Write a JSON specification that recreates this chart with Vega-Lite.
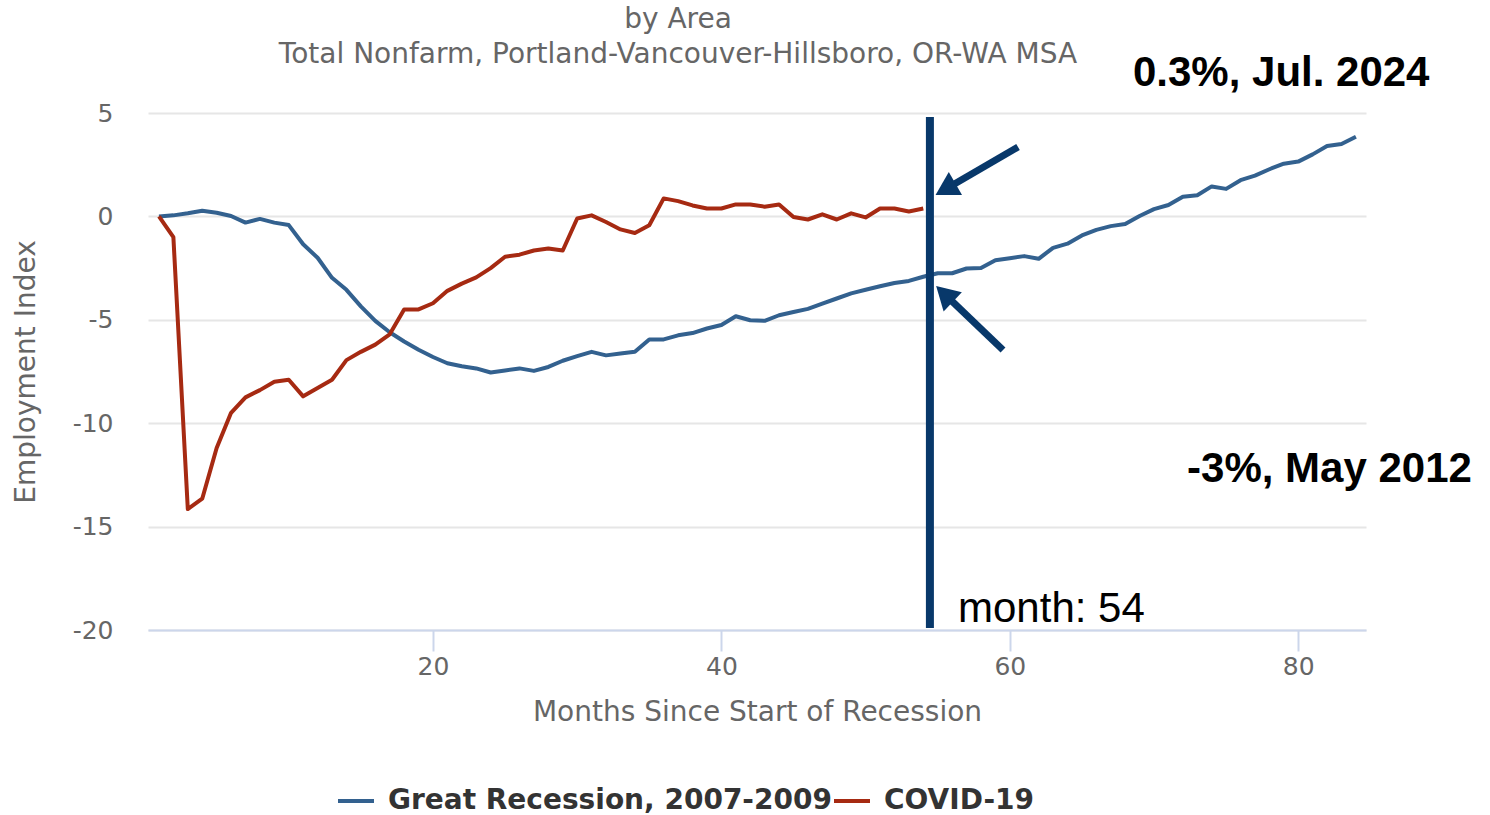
{
  "$schema": "https://vega.github.io/schema/vega-lite/v6.json",
  "width": 1218,
  "height": 517,
  "autosize": "none",
  "padding": {"left": 148, "top": 113, "right": 124, "bottom": 185},
  "background": "white",
  "config": {"font": "DejaVu Sans", "view": {"stroke": null}},
  "title": {
    "text": "by Area",
    "subtitle": "Total Nonfarm, Portland-Vancouver-Hillsboro, OR-WA MSA",
    "font": "DejaVu Sans",
    "subtitleFont": "DejaVu Sans",
    "fontSize": 28,
    "subtitleFontSize": 28,
    "fontWeight": "normal",
    "color": "#666666",
    "subtitleColor": "#666666",
    "anchor": "middle",
    "frame": "group",
    "dx": -79,
    "dy": 17,
    "offset": 0,
    "subtitlePadding": 7
  },
  "datasets": {
    "lines": [
      {"series": "Great Recession, 2007-2009", "month": 1, "value": 0},
      {"series": "Great Recession, 2007-2009", "month": 2, "value": 0.05},
      {"series": "Great Recession, 2007-2009", "month": 3, "value": 0.15},
      {"series": "Great Recession, 2007-2009", "month": 4, "value": 0.27},
      {"series": "Great Recession, 2007-2009", "month": 5, "value": 0.18},
      {"series": "Great Recession, 2007-2009", "month": 6, "value": 0.02},
      {"series": "Great Recession, 2007-2009", "month": 7, "value": -0.3},
      {"series": "Great Recession, 2007-2009", "month": 8, "value": -0.12},
      {"series": "Great Recession, 2007-2009", "month": 9, "value": -0.3},
      {"series": "Great Recession, 2007-2009", "month": 10, "value": -0.42},
      {"series": "Great Recession, 2007-2009", "month": 11, "value": -1.35},
      {"series": "Great Recession, 2007-2009", "month": 12, "value": -2.0},
      {"series": "Great Recession, 2007-2009", "month": 13, "value": -2.97},
      {"series": "Great Recession, 2007-2009", "month": 14, "value": -3.55},
      {"series": "Great Recession, 2007-2009", "month": 15, "value": -4.35},
      {"series": "Great Recession, 2007-2009", "month": 16, "value": -5.05},
      {"series": "Great Recession, 2007-2009", "month": 17, "value": -5.6},
      {"series": "Great Recession, 2007-2009", "month": 18, "value": -6.05},
      {"series": "Great Recession, 2007-2009", "month": 19, "value": -6.45},
      {"series": "Great Recession, 2007-2009", "month": 20, "value": -6.8},
      {"series": "Great Recession, 2007-2009", "month": 21, "value": -7.1},
      {"series": "Great Recession, 2007-2009", "month": 22, "value": -7.25},
      {"series": "Great Recession, 2007-2009", "month": 23, "value": -7.35},
      {"series": "Great Recession, 2007-2009", "month": 24, "value": -7.55},
      {"series": "Great Recession, 2007-2009", "month": 25, "value": -7.45},
      {"series": "Great Recession, 2007-2009", "month": 26, "value": -7.35},
      {"series": "Great Recession, 2007-2009", "month": 27, "value": -7.47},
      {"series": "Great Recession, 2007-2009", "month": 28, "value": -7.28},
      {"series": "Great Recession, 2007-2009", "month": 29, "value": -6.98},
      {"series": "Great Recession, 2007-2009", "month": 30, "value": -6.76},
      {"series": "Great Recession, 2007-2009", "month": 31, "value": -6.55},
      {"series": "Great Recession, 2007-2009", "month": 32, "value": -6.72},
      {"series": "Great Recession, 2007-2009", "month": 33, "value": -6.63},
      {"series": "Great Recession, 2007-2009", "month": 34, "value": -6.55},
      {"series": "Great Recession, 2007-2009", "month": 35, "value": -5.95},
      {"series": "Great Recession, 2007-2009", "month": 36, "value": -5.95},
      {"series": "Great Recession, 2007-2009", "month": 37, "value": -5.75},
      {"series": "Great Recession, 2007-2009", "month": 38, "value": -5.64},
      {"series": "Great Recession, 2007-2009", "month": 39, "value": -5.42},
      {"series": "Great Recession, 2007-2009", "month": 40, "value": -5.25},
      {"series": "Great Recession, 2007-2009", "month": 41, "value": -4.83},
      {"series": "Great Recession, 2007-2009", "month": 42, "value": -5.02},
      {"series": "Great Recession, 2007-2009", "month": 43, "value": -5.05},
      {"series": "Great Recession, 2007-2009", "month": 44, "value": -4.78},
      {"series": "Great Recession, 2007-2009", "month": 45, "value": -4.62},
      {"series": "Great Recession, 2007-2009", "month": 46, "value": -4.47},
      {"series": "Great Recession, 2007-2009", "month": 47, "value": -4.22},
      {"series": "Great Recession, 2007-2009", "month": 48, "value": -3.97},
      {"series": "Great Recession, 2007-2009", "month": 49, "value": -3.72},
      {"series": "Great Recession, 2007-2009", "month": 50, "value": -3.55},
      {"series": "Great Recession, 2007-2009", "month": 51, "value": -3.38},
      {"series": "Great Recession, 2007-2009", "month": 52, "value": -3.22},
      {"series": "Great Recession, 2007-2009", "month": 53, "value": -3.12},
      {"series": "Great Recession, 2007-2009", "month": 54, "value": -2.92},
      {"series": "Great Recession, 2007-2009", "month": 55, "value": -2.75},
      {"series": "Great Recession, 2007-2009", "month": 56, "value": -2.75},
      {"series": "Great Recession, 2007-2009", "month": 57, "value": -2.52},
      {"series": "Great Recession, 2007-2009", "month": 58, "value": -2.5},
      {"series": "Great Recession, 2007-2009", "month": 59, "value": -2.12},
      {"series": "Great Recession, 2007-2009", "month": 60, "value": -2.02},
      {"series": "Great Recession, 2007-2009", "month": 61, "value": -1.92},
      {"series": "Great Recession, 2007-2009", "month": 62, "value": -2.05},
      {"series": "Great Recession, 2007-2009", "month": 63, "value": -1.52},
      {"series": "Great Recession, 2007-2009", "month": 64, "value": -1.32},
      {"series": "Great Recession, 2007-2009", "month": 65, "value": -0.92},
      {"series": "Great Recession, 2007-2009", "month": 66, "value": -0.65},
      {"series": "Great Recession, 2007-2009", "month": 67, "value": -0.47},
      {"series": "Great Recession, 2007-2009", "month": 68, "value": -0.37},
      {"series": "Great Recession, 2007-2009", "month": 69, "value": 0.02},
      {"series": "Great Recession, 2007-2009", "month": 70, "value": 0.35},
      {"series": "Great Recession, 2007-2009", "month": 71, "value": 0.55},
      {"series": "Great Recession, 2007-2009", "month": 72, "value": 0.95},
      {"series": "Great Recession, 2007-2009", "month": 73, "value": 1.02},
      {"series": "Great Recession, 2007-2009", "month": 74, "value": 1.45},
      {"series": "Great Recession, 2007-2009", "month": 75, "value": 1.33},
      {"series": "Great Recession, 2007-2009", "month": 76, "value": 1.75},
      {"series": "Great Recession, 2007-2009", "month": 77, "value": 1.97},
      {"series": "Great Recession, 2007-2009", "month": 78, "value": 2.28},
      {"series": "Great Recession, 2007-2009", "month": 79, "value": 2.55},
      {"series": "Great Recession, 2007-2009", "month": 80, "value": 2.65},
      {"series": "Great Recession, 2007-2009", "month": 81, "value": 3.0},
      {"series": "Great Recession, 2007-2009", "month": 82, "value": 3.4},
      {"series": "Great Recession, 2007-2009", "month": 83, "value": 3.5},
      {"series": "Great Recession, 2007-2009", "month": 84, "value": 3.85},
      {"series": "COVID-19", "month": 1, "value": 0},
      {"series": "COVID-19", "month": 2, "value": -1.0},
      {"series": "COVID-19", "month": 3, "value": -14.15},
      {"series": "COVID-19", "month": 4, "value": -13.65},
      {"series": "COVID-19", "month": 5, "value": -11.2},
      {"series": "COVID-19", "month": 6, "value": -9.5},
      {"series": "COVID-19", "month": 7, "value": -8.75},
      {"series": "COVID-19", "month": 8, "value": -8.4},
      {"series": "COVID-19", "month": 9, "value": -8.0},
      {"series": "COVID-19", "month": 10, "value": -7.9},
      {"series": "COVID-19", "month": 11, "value": -8.7},
      {"series": "COVID-19", "month": 12, "value": -8.3},
      {"series": "COVID-19", "month": 13, "value": -7.9},
      {"series": "COVID-19", "month": 14, "value": -6.95},
      {"series": "COVID-19", "month": 15, "value": -6.55},
      {"series": "COVID-19", "month": 16, "value": -6.2},
      {"series": "COVID-19", "month": 17, "value": -5.7},
      {"series": "COVID-19", "month": 18, "value": -4.5},
      {"series": "COVID-19", "month": 19, "value": -4.5},
      {"series": "COVID-19", "month": 20, "value": -4.2},
      {"series": "COVID-19", "month": 21, "value": -3.6},
      {"series": "COVID-19", "month": 22, "value": -3.25},
      {"series": "COVID-19", "month": 23, "value": -2.95},
      {"series": "COVID-19", "month": 24, "value": -2.5},
      {"series": "COVID-19", "month": 25, "value": -1.95},
      {"series": "COVID-19", "month": 26, "value": -1.85},
      {"series": "COVID-19", "month": 27, "value": -1.65},
      {"series": "COVID-19", "month": 28, "value": -1.55},
      {"series": "COVID-19", "month": 29, "value": -1.65},
      {"series": "COVID-19", "month": 30, "value": -0.1},
      {"series": "COVID-19", "month": 31, "value": 0.05},
      {"series": "COVID-19", "month": 32, "value": -0.27},
      {"series": "COVID-19", "month": 33, "value": -0.63},
      {"series": "COVID-19", "month": 34, "value": -0.8},
      {"series": "COVID-19", "month": 35, "value": -0.43},
      {"series": "COVID-19", "month": 36, "value": 0.87},
      {"series": "COVID-19", "month": 37, "value": 0.74},
      {"series": "COVID-19", "month": 38, "value": 0.53},
      {"series": "COVID-19", "month": 39, "value": 0.38},
      {"series": "COVID-19", "month": 40, "value": 0.38},
      {"series": "COVID-19", "month": 41, "value": 0.58},
      {"series": "COVID-19", "month": 42, "value": 0.58},
      {"series": "COVID-19", "month": 43, "value": 0.47},
      {"series": "COVID-19", "month": 44, "value": 0.58},
      {"series": "COVID-19", "month": 45, "value": -0.03},
      {"series": "COVID-19", "month": 46, "value": -0.15},
      {"series": "COVID-19", "month": 47, "value": 0.1},
      {"series": "COVID-19", "month": 48, "value": -0.15},
      {"series": "COVID-19", "month": 49, "value": 0.15},
      {"series": "COVID-19", "month": 50, "value": -0.05},
      {"series": "COVID-19", "month": 51, "value": 0.38},
      {"series": "COVID-19", "month": 52, "value": 0.38},
      {"series": "COVID-19", "month": 53, "value": 0.24},
      {"series": "COVID-19", "month": 54, "value": 0.38}
    ],
    "cursor": [
      {"month": 54.46, "value": 4.81, "value2": -19.9}
    ],
    "arrows": [
      {"id": "upper", "month": 60.57, "value": 3.36, "month2": 55.77, "value2": 1.41},
      {"id": "lower", "month": 59.53, "value": -6.46, "month2": 55.66, "value2": -3.88}
    ],
    "heads": [
      {"id": "upper", "month": 55.77, "value": 1.41},
      {"id": "lower", "month": 55.66, "value": -3.88}
    ],
    "callouts": [
      {"label": "0.3%, Jul. 2024", "month": 68.54, "value": 6.31},
      {"label": "-3%, May 2012", "month": 72.29, "value": -12.84}
    ],
    "cursorLabel": [
      {"label": "month: 54", "month": 56.41, "value": -19.61}
    ]
  },
  "encoding": {
    "x": {
      "field": "month", "type": "quantitative",
      "scale": {"domain": [0.24, 84.7], "nice": false, "zero": false},
      "axis": {
        "title": "Months Since Start of Recession",
        "values": [20, 40, 60, 80],
        "grid": false,
        "domainColor": "#ccd6eb", "domainWidth": 2,
        "tickColor": "#ccd6eb", "tickWidth": 2, "tickSize": 21,
        "labelFontSize": 25, "labelColor": "#666666", "labelPadding": 3,
        "labelFont": "DejaVu Sans",
        "titleFont": "DejaVu Sans", "titleFontSize": 28, "titleColor": "#666666",
        "titleFontWeight": "normal", "titlePadding": 19
      }
    },
    "y": {
      "field": "value", "type": "quantitative",
      "scale": {"domain": [-20, 5], "nice": false, "zero": false},
      "axis": {
        "title": "Employment Index",
        "values": [-20, -15, -10, -5, 0, 5],
        "labelExpr": "toString(datum.value)",
        "domain": false, "ticks": false,
        "gridColor": "#e6e6e6", "gridWidth": 2,
        "labelFontSize": 25, "labelColor": "#666666", "labelPadding": 35,
        "labelFont": "DejaVu Sans",
        "titleFont": "DejaVu Sans", "titleFontSize": 28, "titleColor": "#666666",
        "titleFontWeight": "normal", "titlePadding": 32
      }
    }
  },
  "layer": [
    {
      "data": {"name": "lines"},
      "transform": [{"filter": "datum.series === 'Great Recession, 2007-2009'"}],
      "mark": {"type": "line", "strokeWidth": 4, "strokeJoin": "round"},
      "encoding": {
        "color": {
          "field": "series", "type": "nominal",
          "scale": {"domain": ["Great Recession, 2007-2009", "COVID-19"], "range": ["#33618f", "#a62a12"]},
          "legend": {
            "orient": "none", "legendX": 188, "legendY": 668,
            "direction": "horizontal", "title": null,
            "symbolType": "stroke", "symbolStrokeWidth": 4, "symbolSize": 1296,
            "labelFontSize": 28, "labelFontWeight": "bold", "labelColor": "#333333",
            "labelFont": "DejaVu Sans", "columnPadding": -8, "labelOffset": 12, "labelLimit": 700
          }
        }
      }
    },
    {
      "data": {"name": "lines"},
      "transform": [{"filter": "datum.series === 'COVID-19'"}],
      "mark": {"type": "line", "strokeWidth": 4, "strokeJoin": "round"},
      "encoding": {
        "color": {"field": "series", "type": "nominal"}
      }
    },
    {
      "data": {"name": "cursor"},
      "mark": {"type": "rule", "color": "#08386a", "strokeWidth": 8},
      "encoding": {
        "y2": {"field": "value2"}
      }
    },
    {
      "data": {"name": "arrows"},
      "mark": {"type": "rule", "color": "#08386a", "strokeWidth": 7},
      "encoding": {
        "x2": {"field": "month2"},
        "y2": {"field": "value2"}
      }
    },
    {
      "data": {"name": "heads"},
      "transform": [{"filter": "datum.id === 'upper'"}],
      "mark": {"type": "point", "shape": "triangle", "filled": true, "color": "#08386a", "opacity": 1, "size": 700, "angle": 240}
    },
    {
      "data": {"name": "heads"},
      "transform": [{"filter": "datum.id === 'lower'"}],
      "mark": {"type": "point", "shape": "triangle", "filled": true, "color": "#08386a", "opacity": 1, "size": 700, "angle": 313.6}
    },
    {
      "data": {"name": "callouts"},
      "mark": {"type": "text", "font": "Liberation Sans", "fontWeight": "bold", "fontSize": 42, "color": "#000000", "align": "left", "baseline": "alphabetic"},
      "encoding": {
        "text": {"field": "label"}
      }
    },
    {
      "data": {"name": "cursorLabel"},
      "mark": {"type": "text", "font": "Liberation Sans", "fontWeight": "normal", "fontSize": 42, "color": "#000000", "align": "left", "baseline": "alphabetic"},
      "encoding": {
        "text": {"field": "label"}
      }
    }
  ]
}
